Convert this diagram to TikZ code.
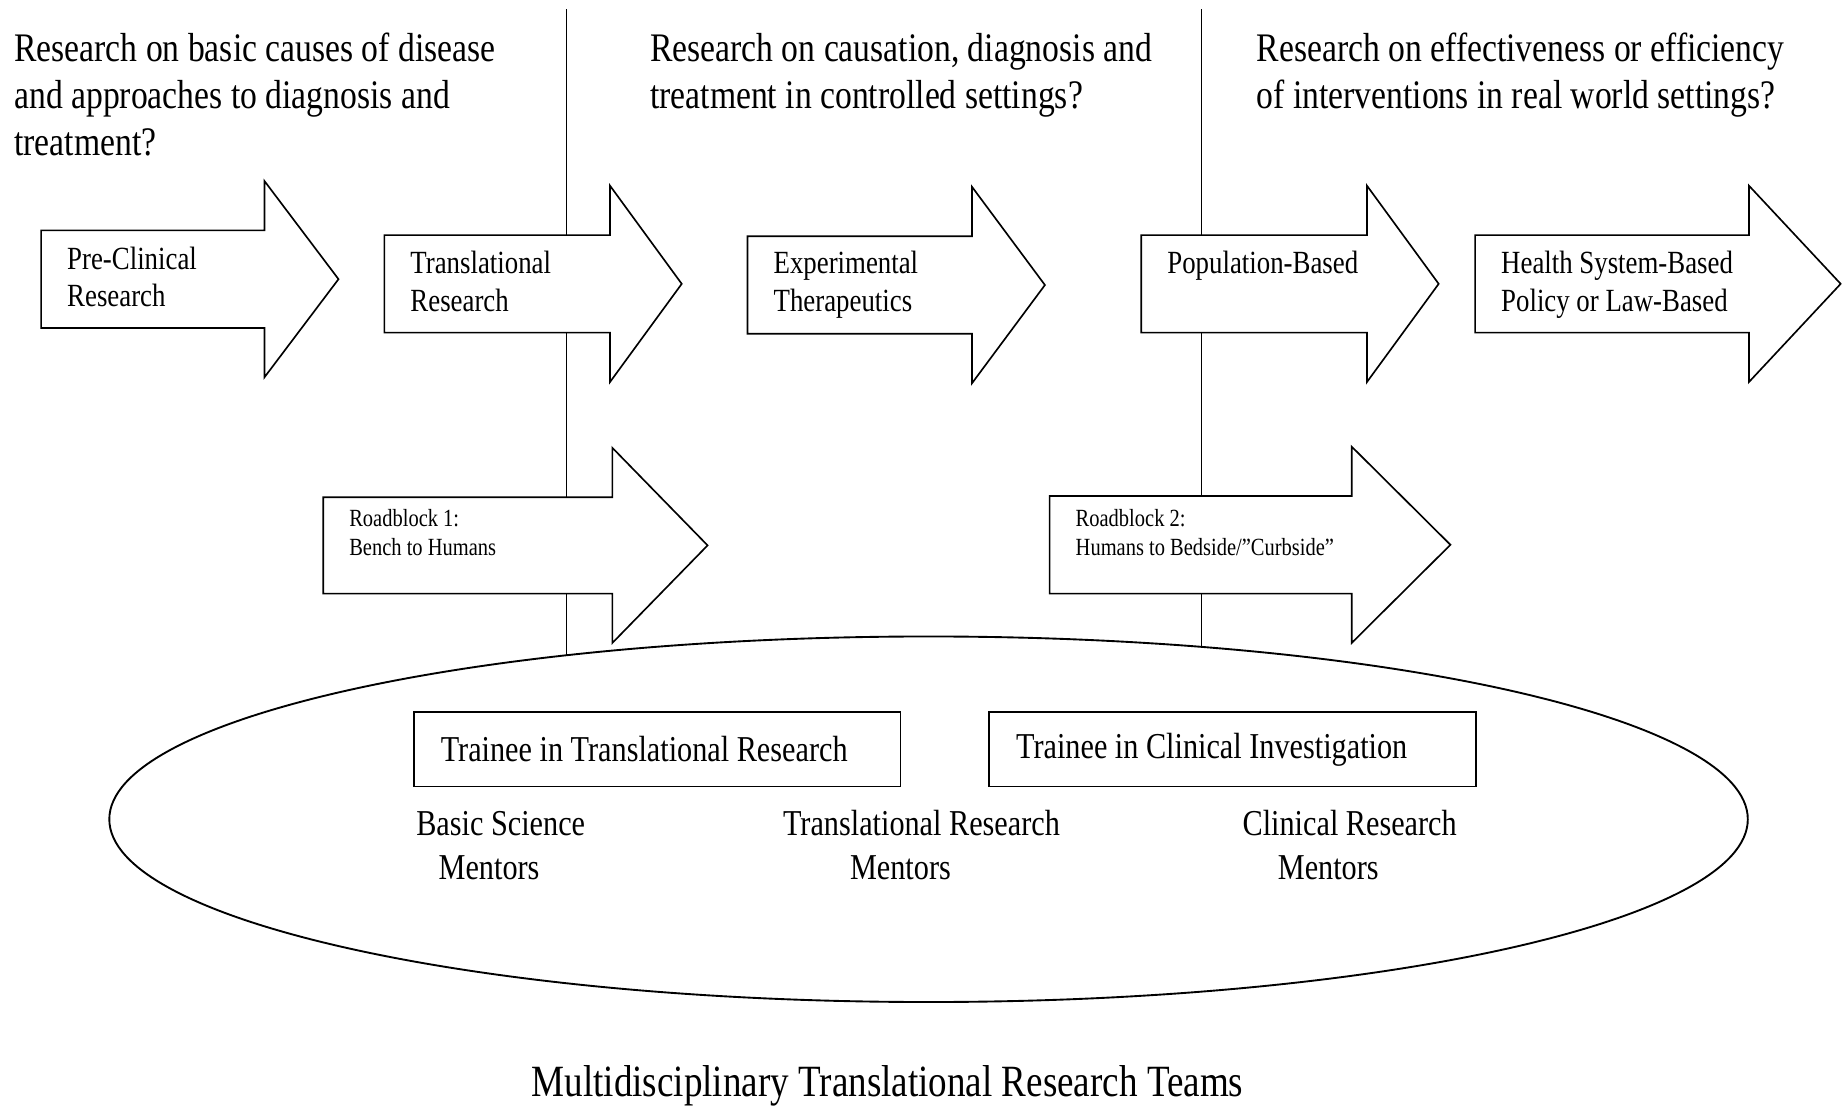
\documentclass[tikz,border=0pt]{standalone}
\usepackage{fontspec}
\setmainfont{Liberation Serif}[FakeStretch=0.83]
\usetikzlibrary{shapes.geometric}

\newcommand{\hdrfont}{\fontsize{34.5}{40}\selectfont}
\newcommand{\arrfont}{\fontsize{27.5}{32}\selectfont}
\newcommand{\rbfont}{\fontsize{21}{25}\selectfont}
\newcommand{\trnfont}{\fontsize{31}{37}\selectfont}
\newcommand{\ttlfont}{\fontsize{38}{44}\selectfont}

% block arrow: left, shaft top, shaft bottom, head x, tip x
\newcommand{\blockarrow}[5]{%
  \filldraw[shell] (#1,#2) -- (#4,#2) -- (#4,#2-42) -- (#5,{(#2+#3)/2})
    -- (#4,#3+42) -- (#4,#3) -- (#1,#3) -- cycle;}

\begin{document}
\begin{tikzpicture}[x=1pt, y=-1pt,
  shell/.style={draw, fill=white, line width=1.4pt, line join=miter},
  divider/.style={line width=1.1pt},
  lbl/.style={inner sep=0, anchor=base west, align=left},
  trainee/.style={rectangle, draw, fill=white, line width=1.4pt,
                  inner xsep=23pt, inner ysep=0,
                  minimum height=63pt, font=\trnfont},
  team/.style={ellipse, draw, fill=white, line width=1.6pt, inner sep=0,
               minimum width=1394pt, minimum height=311pt},
]
  \useasboundingbox (0,0) rectangle (1568,944);

  % phase dividers
  \coordinate (d1top) at (482,8);
  \coordinate (d1bot) at (482,600);
  \coordinate (d2top) at (1022,8);
  \coordinate (d2bot) at (1022,600);
  \draw[divider] (d1top) -- (d1bot);
  \draw[divider] (d2top) -- (d2bot);

  % questions (base = last line)
  \node[lbl, font=\hdrfont] (q1) at (12,132)
    {Research on basic causes of disease\\and approaches to diagnosis and\\treatment?};
  \node[lbl, font=\hdrfont] (q2) at (553,92)
    {Research on causation, diagnosis and\\treatment in controlled settings?};
  \node[lbl, font=\hdrfont] (q3) at (1069,92)
    {Research on effectiveness or efficiency\\of interventions in real world settings?};

  % research stages
  \blockarrow{35}{196}{279}{225}{288}
  \blockarrow{327}{200}{283}{519}{580}
  \blockarrow{636}{201}{284}{827}{889}
  \blockarrow{971}{200}{283}{1163}{1224}
  \blockarrow{1255}{200}{283}{1488}{1566}
  \node[lbl, font=\arrfont] (preclin) at (57,261) {Pre-Clinical\\Research};
  \node[lbl, font=\arrfont] (transl) at (349,265) {Translational\\Research};
  \node[lbl, font=\arrfont] (exper) at (658,265) {Experimental\\Therapeutics};
  \node[lbl, font=\arrfont] (popul) at (993,233) {Population-Based};
  \node[lbl, font=\arrfont] (health) at (1277,265) {Health System-Based\\Policy or Law-Based};

  % roadblocks
  \blockarrow{275}{423}{505}{521}{602}
  \blockarrow{893}{422}{505}{1150}{1234}
  \node[lbl, font=\rbfont] (rb1) at (297,473) {Roadblock 1:\\Bench to Humans};
  \node[lbl, font=\rbfont] (rb2) at (915,473) {Roadblock 2:\\Humans to Bedside/”Curbside”};

  % teams
  \node[team] (teams) at (790,697) {};
  \node[trainee] (trTR) at (559,637.5)
    {\makebox[368pt][l]{Trainee in Translational Research}};
  \node[trainee] (trCI) at (1048.5,637.5)
    {\makebox[368pt][l]{Trainee in Clinical Investigation}};
  \node[lbl, font=\trnfont] (mBS) at (354,748) {Basic Science\\\hspace*{19pt}Mentors};
  \node[lbl, font=\trnfont] (mTR) at (666,748) {Translational Research\\\hspace*{57pt}Mentors};
  \node[lbl, font=\trnfont] (mCR) at (1057,748) {Clinical Research\\\hspace*{30pt}Mentors};

  \node[inner sep=0, anchor=base, font=\ttlfont] (title) at (755,933)
    {Multidisciplinary Translational Research Teams};
\end{tikzpicture}
\end{document}
